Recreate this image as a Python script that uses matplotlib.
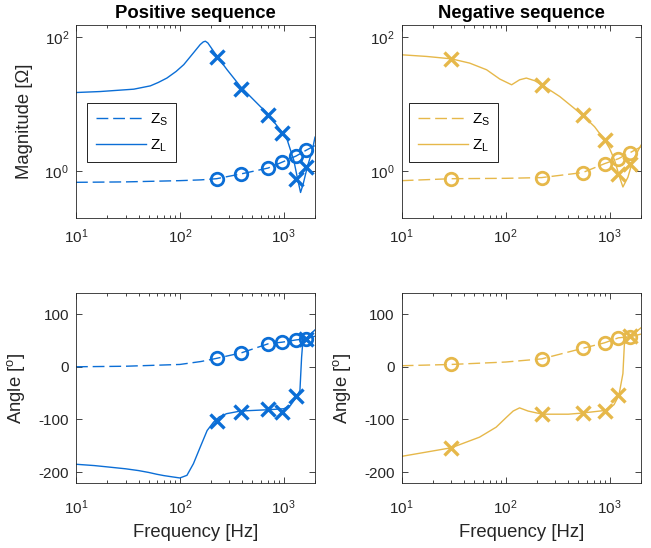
import matplotlib
matplotlib.use("Agg")
import matplotlib.pyplot as plt
from matplotlib.ticker import NullLocator, LogLocator

plt.rcParams["font.family"] = ["Liberation Sans", "DejaVu Sans"]
plt.rcParams["mathtext.fontset"] = "custom"
plt.rcParams["mathtext.rm"] = "Liberation Sans"
plt.rcParams["mathtext.it"] = "Liberation Sans:italic"
plt.rcParams["mathtext.bf"] = "Liberation Sans:bold"
plt.rcParams["axes.unicode_minus"] = False

BLUE = "#0B6ED6"
YELLOW = "#E6B84A"
AXC = "#262626"

# ---- Positive sequence ----
pos_f_zl_mag = [10, 17, 36, 52, 62, 75, 92, 109, 135, 157, 168, 176, 186, 196, 231, 285,
                383, 514, 692, 931, 1081, 1250, 1349, 1452, 1542, 1686, 1884, 2000]
pos_zl_mag = [14.8, 15.3, 16.6, 18.6, 20.9, 24.3, 30.5, 38.5, 57.6, 76.7, 84, 86, 81, 72,
              50, 32.3, 18.2, 11.5, 7.25, 4.07, 2.9, 1.45, 0.81, 0.48, 0.65, 1.15, 2.04, 3.2]
pos_f_zs = [10, 30, 100, 160, 226, 392, 708, 968, 1320, 1640, 2000]
pos_zs_mag = [0.68, 0.69, 0.72, 0.74, 0.77, 0.91, 1.11, 1.36, 1.68, 2.04, 2.4]
pos_f_zl_ang = [10, 15, 20, 30, 40, 50, 60, 70, 85, 100, 117, 135, 157, 183, 211, 240,
                282, 383, 692, 1002, 1164, 1340, 1432, 1486, 1530, 1686, 2000]
pos_zl_ang = [-185, -187.5, -190, -193.6, -197, -200.5, -204, -206.5, -209, -211, -206,
              -184, -152.5, -121, -105, -95, -89, -84, -81.6, -79.7, -73, -56, -45, 18,
              50, 56, 70]
pos_zs_ang = [0, 1, 4.4, 10, 16, 26.5, 43.6, 46.7, 51, 53, 58]

pos_f_mk = [226, 392, 708, 968, 1320, 1640]
pos_zl_mag_mk = [50, 16.6, 6.8, 3.7, 0.77, 1.15]
pos_zs_mag_mk = [0.77, 0.91, 1.11, 1.36, 1.68, 2.04]
pos_zl_ang_mk = [-103, -86, -80, -86, -56, 52]
pos_zs_ang_mk = [16, 26.5, 43.6, 46.7, 51, 52]

# ---- Negative sequence ----
neg_f_zl_mag = [10, 17.4, 30, 45, 65.5, 87.7, 114, 136, 158, 190, 222, 331, 550, 716,
                893, 998, 1115, 1245, 1340, 1497, 1671, 2000]
neg_zl_mag = [54, 51, 47, 40.6, 32.3, 23.5, 19.3, 22.9, 24.3, 22.2, 19.3, 12.9, 6.8,
              4.57, 2.9, 2.17, 1.45, 0.81, 0.58, 0.81, 1.45, 2.43]
neg_f_zs = [10, 30, 100, 222, 550, 893, 1215, 1580, 2000]
neg_zs_mag = [0.72, 0.77, 0.78, 0.80, 0.95, 1.29, 1.53, 1.89, 2.3]
neg_f_zl_ang = [10, 30, 56, 81, 102, 118, 136, 164, 225, 400, 534, 893, 1100, 1225,
                1340, 1390, 1450, 1611, 2000]
neg_zl_ang = [-170, -153.7, -133.6, -114.6, -95.6, -84, -78, -84, -90, -90, -88, -83,
              -72, -54.5, -13, 50, 56, 59, 74]
neg_zs_ang = [2, 4.4, 9, 15, 35, 45.5, 55, 57, 62]

neg_f_mk = [30, 222, 550, 893, 1215, 1580]
neg_zl_mag_mk = [47, 19.3, 6.8, 2.9, 0.89, 1.26]
neg_zs_mag_mk = [0.77, 0.80, 0.95, 1.29, 1.53, 1.89]
neg_zl_ang_mk = [-153.7, -90.5, -88, -83, -54.5, 59]
neg_zs_ang_mk = [4.4, 15, 35, 45.5, 55, 57]

DASH = (8.5, 3.5)


def style_axes(ax, xpad):
    ax.set_xscale("log")
    ax.set_xlim(10, 2000)
    ax.set_xticks([10, 100, 1000])
    ax.xaxis.set_minor_locator(LogLocator(base=10, subs=range(2, 10), numticks=20))
    ax.tick_params(which="both", direction="in", top=True, right=True,
                   colors=AXC, width=0.6, labelsize=11, pad=5)
    ax.tick_params(axis="x", pad=xpad)
    ax.tick_params(which="major", length=4.5)
    ax.tick_params(which="minor", length=2.5)
    for s in ax.spines.values():
        s.set_color(AXC)
        s.set_linewidth(0.6)


def draw_mag(ax, color, f_zl, zl, f_zs, zs, f_mk, zl_mk, zs_mk, legend_x):
    style_axes(ax, 7)
    ax.set_yscale("log")
    ax.set_ylim(0.2, 150)
    ax.set_yticks([1, 100])
    ax.yaxis.set_minor_locator(NullLocator())
    ax.plot(f_zs, zs, color=color, lw=1.0, dashes=DASH, label="Z$_\\mathregular{S}$")
    ax.plot(f_zl, zl, color=color, lw=1.0, label="Z$_\\mathregular{L}$")
    ax.plot(f_mk, zs_mk, ls="none", marker="o", ms=9, mew=2, mfc="none", color=color)
    ax.plot(f_mk, zl_mk, ls="none", marker="x", ms=9.5, mew=2.4, color=color)
    leg = ax.legend(loc="upper left", bbox_to_anchor=(legend_x, 0.594), borderaxespad=0,
                    fontsize=11, handlelength=3.3, handletextpad=0.25, borderpad=0.55,
                    labelspacing=0.6, fancybox=False, framealpha=1)
    leg.get_frame().set_edgecolor("black")
    leg.get_frame().set_linewidth(0.6)


def draw_ang(ax, color, f_zl, zl, f_zs, zs, f_mk, zl_mk, zs_mk):
    style_axes(ax, 11)
    ax.set_ylim(-220, 140)
    ax.set_yticks([-200, -100, 0, 100])
    ax.plot(f_zs, zs, color=color, lw=1.0, dashes=DASH)
    ax.plot(f_zl, zl, color=color, lw=1.0)
    ax.plot(f_mk, zs_mk, ls="none", marker="o", ms=9, mew=2, mfc="none", color=color)
    ax.plot(f_mk, zl_mk, ls="none", marker="x", ms=9.5, mew=2.4, color=color)
    ax.set_xlabel("Frequency [Hz]", fontsize=13.3, color=AXC, labelpad=5)
    ax.set_ylabel("Angle [$^\\mathregular{o}$]", fontsize=13.3, color=AXC)
    ax.yaxis.set_label_coords(-0.205, 0.5)


fig = plt.figure(figsize=(6.51, 5.48), dpi=100)
W, H = 651, 548
ax1 = fig.add_axes([76 / W, 1 - 218 / H, 239 / W, 193 / H])
ax2 = fig.add_axes([401.7 / W, 1 - 218 / H, 239.3 / W, 193 / H])
ax3 = fig.add_axes([76 / W, 1 - 482.7 / H, 239 / W, 189.7 / H])
ax4 = fig.add_axes([401.7 / W, 1 - 482.7 / H, 239.3 / W, 189.7 / H])

draw_mag(ax1, BLUE, pos_f_zl_mag, pos_zl_mag, pos_f_zs, pos_zs_mag,
         pos_f_mk, pos_zl_mag_mk, pos_zs_mag_mk, 0.047)
draw_mag(ax2, YELLOW, neg_f_zl_mag, neg_zl_mag, neg_f_zs, neg_zs_mag,
         neg_f_mk, neg_zl_mag_mk, neg_zs_mag_mk, 0.032)
ax1.set_ylabel("Magnitude [Ω]", fontsize=13.3, color=AXC)
ax1.yaxis.set_label_coords(-0.179, 0.5)
ax1.set_title("Positive sequence", fontsize=13.3, fontweight="bold", pad=5)
ax2.set_title("Negative sequence", fontsize=13.3, fontweight="bold", pad=5)

draw_ang(ax3, BLUE, pos_f_zl_ang, pos_zl_ang, pos_f_zs, pos_zs_ang,
         pos_f_mk, pos_zl_ang_mk, pos_zs_ang_mk)
draw_ang(ax4, YELLOW, neg_f_zl_ang, neg_zl_ang, neg_f_zs, neg_zs_ang,
         neg_f_mk, neg_zl_ang_mk, neg_zs_ang_mk)

fig.savefig("out.png", dpi=100)
